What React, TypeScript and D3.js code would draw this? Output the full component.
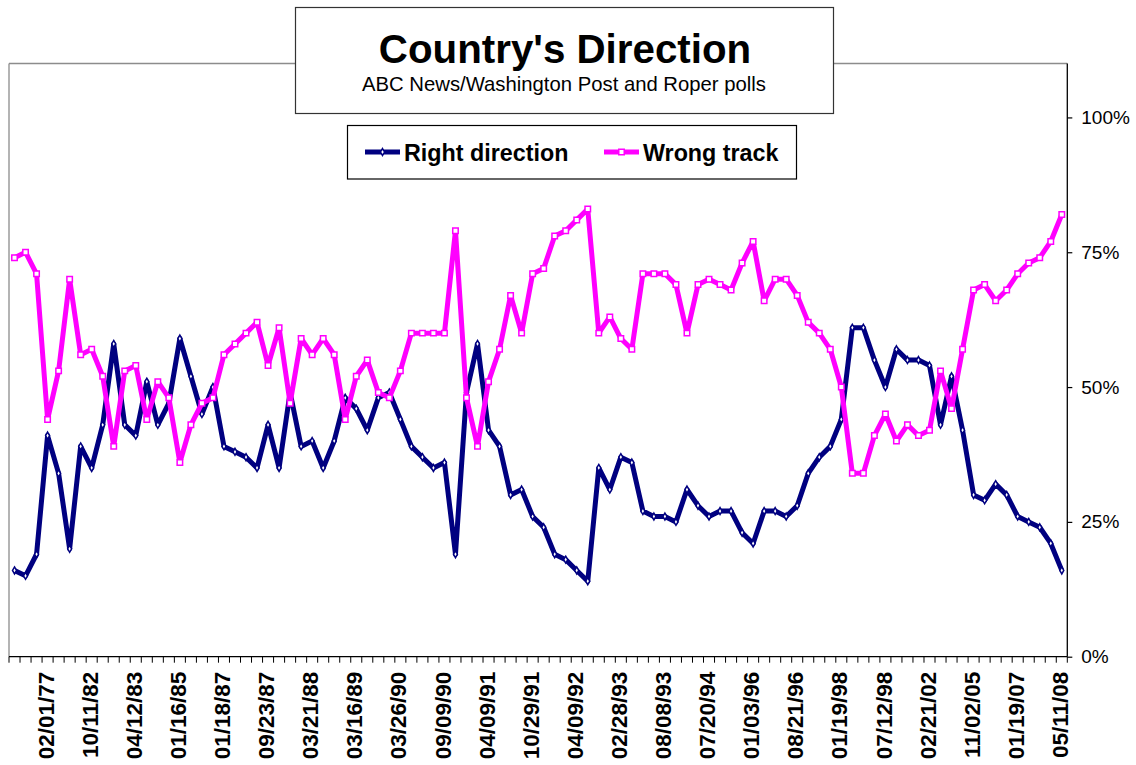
import React, { useRef, useEffect } from 'react';
import * as d3 from 'd3';

// poll values, in order, one per survey date
const rightDirection = [
  16, 15, 19, 41, 34, 20, 39, 35, 43, 58, 43, 41, 51, 43, 47, 59, 52, 45, 50, 39, 38, 37, 35, 43, 35,
  49, 39, 40, 35, 40, 48, 46, 42, 48, 49, 44, 39, 37, 35, 36, 19, 49, 58, 42, 39, 30, 31, 26, 24,
  19, 18, 16, 14, 35, 31, 37, 36, 27, 26, 26, 25, 31, 28, 26, 27, 27, 23, 21, 27, 27, 26, 28, 34, 37,
  39, 44, 61, 61, 55, 50, 57, 55, 55, 54, 43, 52, 42, 30, 29, 32, 30, 26, 25, 24, 21, 16
];
const wrongTrack = [
  74, 75, 71, 44, 53, 70, 56, 57, 52, 39, 53, 54, 44, 51, 48, 36, 43, 47, 48, 56, 58, 60, 62, 54, 61,
  47, 59, 56, 59, 56, 44, 52, 55, 49, 48, 53, 60, 60, 60, 60, 79, 48, 39, 51, 57, 67, 60, 71, 72,
  78, 79, 81, 83, 60, 63, 59, 57, 71, 71, 71, 69, 60, 69, 70, 69, 68, 73, 77, 66, 70, 70, 67, 62, 60,
  57, 50, 34, 34, 41, 45, 40, 43, 41, 42, 53, 46, 57, 68, 69, 66, 68, 71, 73, 74, 77, 82
];
// every 4th survey date is labelled, starting at the 4th one
const dateLabels = [
  '02/01/77', '10/11/82', '04/12/83', '01/16/85', '01/18/87', '09/23/87', '03/21/88', '03/16/89',
  '03/26/90', '09/09/90', '04/09/91', '10/29/91', '04/09/92', '02/28/93', '08/08/93', '07/20/94',
  '01/03/96', '08/21/96', '01/19/98', '07/12/98', '02/21/02', '11/02/05', '01/19/07', '05/11/08'
];
const yTicks = [0, 25, 50, 75, 100];

const FONT = '"Liberation Sans", Arial, sans-serif';

const App = () => {
  const svgRef = useRef(null);

  useEffect(() => {
    const width = 1136;
    const height = 765;
    const svg = d3.select(svgRef.current).attr('width', width).attr('height', height);
    svg.selectAll('*').remove();

    const left = 9, right = 1067.3, top = 63.5, bottom = 656.7;

    const idx = d3.range(rightDirection.length);
    const x = d3.scaleBand().domain(idx).range([left, right]).padding(0);
    const cx = i => x(i) + x.bandwidth() / 2;
    const y = d3.scaleLinear().domain([0, 110]).range([bottom, top]);

    // plot frame
    svg.append('line').attr('x1', left).attr('x2', right).attr('y1', top).attr('y2', top)
      .attr('stroke', '#8c8c8c').attr('stroke-width', 1.3);
    svg.append('line').attr('x1', left).attr('x2', left).attr('y1', top).attr('y2', bottom)
      .attr('stroke', '#8c8c8c').attr('stroke-width', 1.3);

    // right value axis
    const yAxis = d3.axisRight(y).tickValues(yTicks).tickSize(5).tickFormat(d => d + '%');
    const ya = svg.append('g').attr('transform', `translate(${right},0)`).call(yAxis);
    ya.select('.domain').attr('d', `M0,${top}V${bottom}`).attr('stroke', '#000').attr('stroke-width', 1.3);
    ya.selectAll('.tick line').attr('stroke', '#000').attr('stroke-width', 1.2);
    ya.selectAll('.tick text').attr('x', 14).attr('font-family', FONT).attr('font-size', 19).attr('fill', '#000');

    // bottom category axis
    const boundaries = d3.range(rightDirection.length + 1).map(i => left + i * x.bandwidth());
    svg.append('line').attr('x1', left).attr('x2', right).attr('y1', bottom).attr('y2', bottom)
      .attr('stroke', '#000').attr('stroke-width', 1.3);
    svg.append('g').selectAll('line').data(boundaries).enter().append('line')
      .attr('x1', d => d).attr('x2', d => d).attr('y1', bottom).attr('y2', bottom + 6)
      .attr('stroke', '#000').attr('stroke-width', 1);
    svg.append('g').selectAll('text').data(dateLabels).enter().append('text')
      .attr('transform', (d, k) => `translate(${cx(3 + k * 4) - 2},${bottom + 15}) rotate(-90)`)
      .attr('text-anchor', 'end').attr('dy', '0.36em')
      .attr('font-family', FONT).attr('font-weight', 'bold').attr('font-size', 22.5)
      .text(d => d);

    const line = d3.line().x((d, i) => cx(i)).y(d => y(d));

    const series = [
      { name: 'Right direction', values: rightDirection, color: '#000080', marker: 'diamond' },
      { name: 'Wrong track', values: wrongTrack, color: '#ff00ff', marker: 'square' }
    ];

    series.forEach(s => {
      svg.append('path').datum(s.values).attr('d', line)
        .attr('fill', 'none').attr('stroke', s.color).attr('stroke-width', 5)
        .attr('stroke-linejoin', 'round');
      const sym = s.marker === 'square' ? d3.symbolSquare : d3.symbolDiamond;
      const size = s.marker === 'square' ? 30 : 14;
      svg.append('g').selectAll('path').data(s.values).enter().append('path')
        .attr('d', d3.symbol().type(sym).size(size))
        .attr('transform', (d, i) => `translate(${cx(i)},${y(d)})`)
        .attr('fill', '#fff').attr('stroke', s.color).attr('stroke-width', 1.5);
    });

    // title box
    svg.append('rect').attr('x', 295.5).attr('y', 7.5).attr('width', 538).attr('height', 106)
      .attr('fill', '#fff').attr('stroke', '#333').attr('stroke-width', 1.2);
    svg.append('text').attr('x', 565).attr('y', 63).attr('text-anchor', 'middle')
      .attr('font-family', FONT).attr('font-weight', 'bold').attr('font-size', 40.3)
      .text("Country's Direction");
    svg.append('text').attr('x', 564).attr('y', 90.5).attr('text-anchor', 'middle')
      .attr('font-family', FONT).attr('font-size', 20.3)
      .text('ABC News/Washington Post and Roper polls');

    // legend
    svg.append('rect').attr('x', 347.5).attr('y', 125.5).attr('width', 449).attr('height', 53.5)
      .attr('fill', '#fff').attr('stroke', '#000').attr('stroke-width', 1.2);
    const legendX = [365, 604];
    series.forEach((s, k) => {
      const g = svg.append('g').attr('transform', `translate(${legendX[k]},152)`);
      g.append('line').attr('x1', 0).attr('x2', 35).attr('y1', 0).attr('y2', 0)
        .attr('stroke', s.color).attr('stroke-width', 5);
      const sym = s.marker === 'square' ? d3.symbolSquare : d3.symbolDiamond;
      g.append('path').attr('d', d3.symbol().type(sym).size(s.marker === 'square' ? 30 : 14))
        .attr('transform', 'translate(17.5,0)')
        .attr('fill', '#fff').attr('stroke', s.color).attr('stroke-width', 1.5);
      g.append('text').attr('x', 39).attr('y', 9).attr('font-family', FONT)
        .attr('font-weight', 'bold').attr('font-size', 23.3).text(s.name);
    });
  }, []);

  return (
    <svg ref={svgRef} style={{ position: 'absolute', left: 0, top: 0, background: '#fff' }}></svg>
  );
};

export default App;
